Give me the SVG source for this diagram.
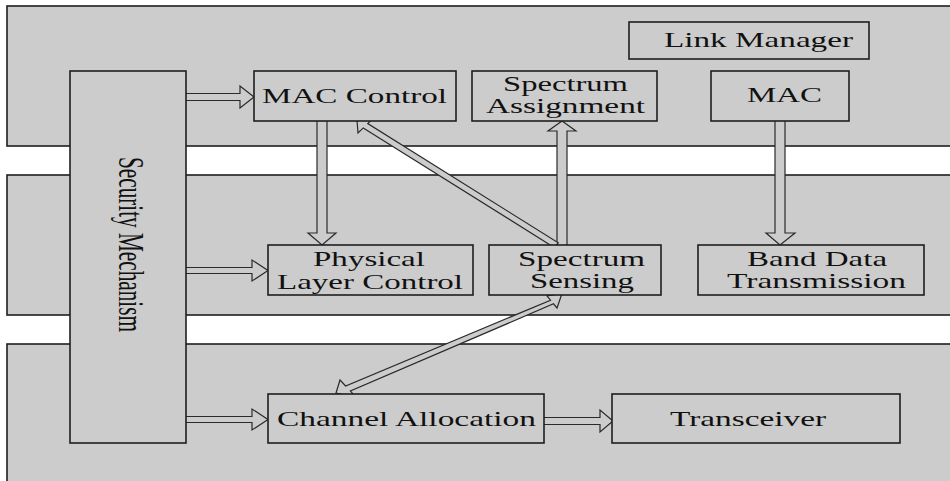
<svg xmlns="http://www.w3.org/2000/svg" width="950" height="481" viewBox="0 0 950 481">
<style>
.band{fill:#cccccc;stroke:#1e1e1e;stroke-width:1.6}
.box{fill:#cccccc;stroke:#1e1e1e;stroke-width:1.6}
.arr{fill:#cccccc;stroke:#2a2a2a;stroke-width:1.2;stroke-linejoin:miter}
.t{font-family:"Liberation Serif","Times New Roman",serif;font-size:21px;fill:#111}
</style>
<rect width="950" height="481" fill="#ffffff"/>
<g id="layers">
<rect class="band" x="7" y="6" width="960" height="140"/>
<rect class="band" x="7" y="175" width="960" height="140"/>
<rect class="band" x="7" y="344" width="960" height="150"/>
</g>
<g id="connectors">
<polygon class="arr" points="180,93.5 240,93.5 240,86 254,97 240,108 240,100.5 180,100.5"/>
<polygon class="arr" points="180,267.5 252,267.5 252,260 268,270.5 252,281 252,273.5 180,273.5"/>
<polygon class="arr" points="180,416.5 252,416.5 252,409 268,419.5 252,430 252,422.5 180,422.5"/>
<polygon class="arr" points="540,417.5 600,417.5 600,410 613,421 600,432 600,424.5 540,424.5"/>
<polygon class="arr" points="317,115 327,115 327,233 336,233 322,245 308,233 317,233"/>
<polygon class="arr" points="775,115 785,115 785,233 795,233 780,245 766,233 775,233"/>
<polygon class="arr" points="557,250 557,131 548,131 562,121 576,131 567,131 567,250"/>
<polygon class="arr" points="357,120 373,118.5 367.75,123.6 558.25,242.85 553.75,247.15 363.25,127.9 358,133"/>
<polygon class="arr" points="336,393 340,380 345.6,385.95 550.5,300.2 547,296 562,293.5 557,308 553.5,303.8 350.4,391.05 356,397"/>
</g>
<g id="security-mechanism">
<rect class="box" x="70" y="71" width="116" height="372"/>
<text class="t" transform="translate(119,157) scale(1.7,1) rotate(90)" x="0" y="0" textLength="175" lengthAdjust="spacingAndGlyphs">Security Mechanism</text>
</g>
<g id="link-manager">
<rect class="box" x="629" y="22" width="240" height="37"/>
<text class="t" transform="translate(664,47) scale(1.57,1)" textLength="120.4" lengthAdjust="spacingAndGlyphs">Link Manager</text>
</g>
<g id="mac-control">
<rect class="box" x="254" y="71" width="202" height="50"/>
<text class="t" transform="translate(262,103) scale(1.57,1)" textLength="117.8" lengthAdjust="spacingAndGlyphs">MAC Control</text>
</g>
<g id="spectrum-assignment">
<rect class="box" x="472" y="71" width="185" height="50"/>
<text class="t" transform="translate(503,91) scale(1.57,1)" textLength="79.6" lengthAdjust="spacingAndGlyphs">Spectrum</text>
<text class="t" transform="translate(486,113) scale(1.57,1)" textLength="101.3" lengthAdjust="spacingAndGlyphs">Assignment</text>
</g>
<g id="mac">
<rect class="box" x="711" y="71" width="138" height="50"/>
<text class="t" transform="translate(747,102) scale(1.57,1)" textLength="47.8" lengthAdjust="spacingAndGlyphs">MAC</text>
</g>
<g id="physical-layer-control">
<rect class="box" x="268" y="245" width="205" height="50"/>
<text class="t" transform="translate(313,266) scale(1.57,1)" textLength="71.3" lengthAdjust="spacingAndGlyphs">Physical</text>
<text class="t" transform="translate(277,289) scale(1.57,1)" textLength="118.5" lengthAdjust="spacingAndGlyphs">Layer Control</text>
</g>
<g id="spectrum-sensing">
<rect class="box" x="489" y="245" width="172" height="50"/>
<text class="t" transform="translate(518,266) scale(1.57,1)" textLength="80.9" lengthAdjust="spacingAndGlyphs">Spectrum</text>
<text class="t" transform="translate(530,288) scale(1.57,1)" textLength="66.2" lengthAdjust="spacingAndGlyphs">Sensing</text>
</g>
<g id="band-data-transmission">
<rect class="box" x="698" y="245" width="226" height="50"/>
<text class="t" transform="translate(747,266) scale(1.57,1)" textLength="89.2" lengthAdjust="spacingAndGlyphs">Band Data</text>
<text class="t" transform="translate(727,288) scale(1.57,1)" textLength="114" lengthAdjust="spacingAndGlyphs">Transmission</text>
</g>
<g id="channel-allocation">
<rect class="box" x="268" y="394" width="276" height="49"/>
<text class="t" transform="translate(277,426) scale(1.57,1)" textLength="165" lengthAdjust="spacingAndGlyphs">Channel Allocation</text>
</g>
<g id="transceiver">
<rect class="box" x="612" y="394" width="288" height="49"/>
<text class="t" transform="translate(670,426) scale(1.57,1)" textLength="99.4" lengthAdjust="spacingAndGlyphs">Transceiver</text>
</g>
</svg>
